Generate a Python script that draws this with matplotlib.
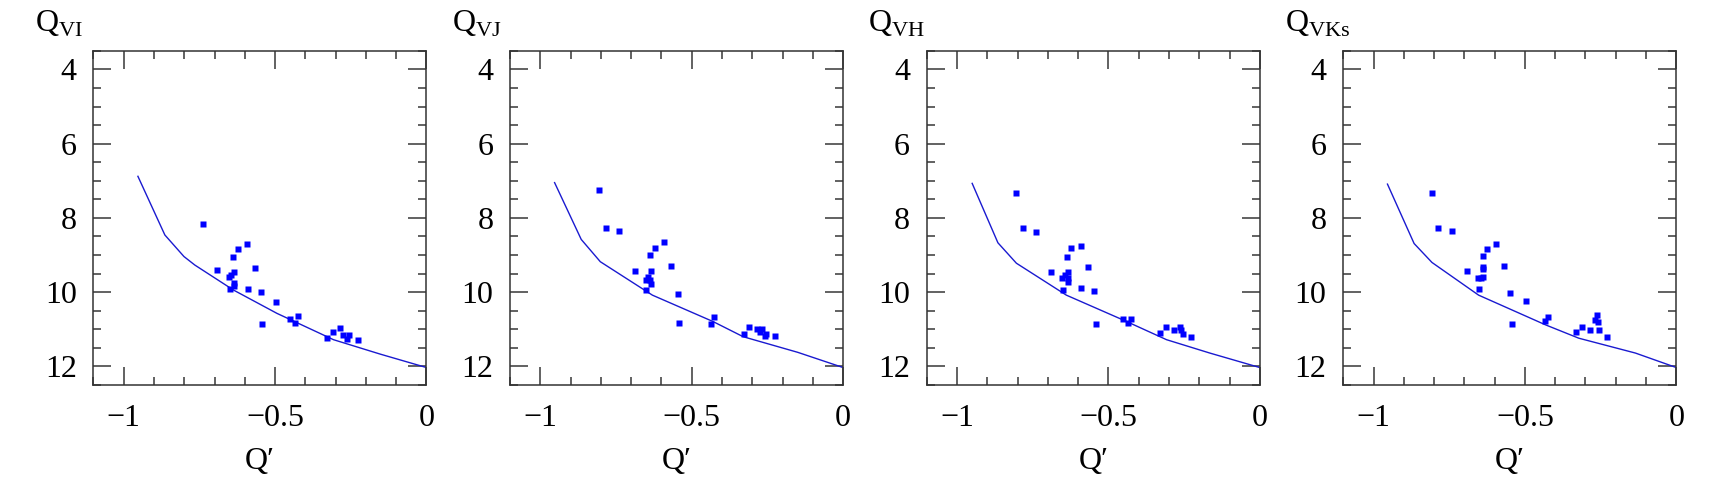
import matplotlib
matplotlib.use("Agg")
import matplotlib.pyplot as plt
from matplotlib.ticker import MultipleLocator

plt.rcParams['font.family'] = ['Liberation Serif', 'DejaVu Serif']
plt.rcParams['mathtext.fontset'] = 'custom'
plt.rcParams['mathtext.rm'] = 'Liberation Serif'
plt.rcParams['axes.unicode_minus'] = True

labels = ["VI", "VJ", "VH", "VKs"]

# data points (Q', Q) for each panel
qp_vi = [-0.738, -0.592, -0.623, -0.638, -0.691, -0.566, -0.634, -0.646, -0.653, -0.634, -0.635, -0.650, -0.589,
         -0.546, -0.497, -0.542, -0.450, -0.425, -0.434, -0.328, -0.310, -0.285, -0.276, -0.257, -0.262, -0.226]
q_vi = [8.17, 8.70, 8.83, 9.04, 9.40, 9.34, 9.47, 9.53, 9.59, 9.74, 9.83, 9.91, 9.92,
        9.99, 10.26, 10.86, 10.73, 10.65, 10.84, 11.23, 11.08, 10.96, 11.16, 11.16, 11.26, 11.28]

qp_vj = [-0.806, -0.784, -0.739, -0.592, -0.622, -0.638, -0.689, -0.634, -0.567, -0.644, -0.652, -0.638, -0.634,
         -0.651, -0.547, -0.543, -0.425, -0.435, -0.311, -0.328, -0.286, -0.268, -0.275, -0.256, -0.259, -0.226]
q_vj = [7.25, 8.26, 8.34, 8.64, 8.81, 8.99, 9.42, 9.42, 9.30, 9.58, 9.67, 9.67, 9.79,
        9.93, 10.04, 10.84, 10.67, 10.85, 10.93, 11.12, 10.99, 10.99, 11.06, 11.12, 11.18, 11.17]

qp_vh = [-0.806, -0.783, -0.738, -0.591, -0.622, -0.638, -0.688, -0.567, -0.634, -0.644, -0.653, -0.634, -0.634,
         -0.650, -0.589, -0.547, -0.542, -0.452, -0.425, -0.434, -0.328, -0.311, -0.284, -0.264, -0.260, -0.255, -0.226]
q_vh = [7.32, 8.27, 8.37, 8.75, 8.81, 9.04, 9.45, 9.32, 9.45, 9.55, 9.62, 9.61, 9.73,
        9.93, 9.88, 9.98, 10.86, 10.73, 10.73, 10.83, 11.11, 10.94, 11.02, 10.93, 11.02, 11.12, 11.22]

qp_vk = [-0.808, -0.786, -0.741, -0.594, -0.624, -0.639, -0.691, -0.569, -0.637, -0.637, -0.654, -0.637, -0.645,
         -0.652, -0.549, -0.498, -0.544, -0.425, -0.435, -0.331, -0.312, -0.286, -0.262, -0.267, -0.259, -0.256, -0.228]
q_vk = [7.33, 8.26, 8.35, 8.70, 8.84, 9.03, 9.42, 9.30, 9.31, 9.38, 9.62, 9.60, 9.63,
        9.91, 10.01, 10.24, 10.86, 10.67, 10.79, 11.07, 10.94, 11.02, 10.62, 10.76, 10.81, 11.02, 11.22]

# model curves
cx_vi = [-0.953, -0.864, -0.801, -0.765, -0.638, -0.494, -0.307, -0.152, 0.0]
cy_vi = [6.88, 8.46, 9.04, 9.27, 9.94, 10.57, 11.28, 11.67, 12.03]
cx_vj = [-0.953, -0.865, -0.802, -0.63, -0.43, -0.33, -0.15, 0.0]
cy_vj = [7.05, 8.58, 9.18, 10.08, 10.79, 11.2, 11.62, 12.03]
cx_vh = [-0.95, -0.865, -0.804, -0.639, -0.44, -0.308, -0.165, 0.0]
cy_vh = [7.07, 8.67, 9.22, 10.08, 10.79, 11.28, 11.64, 12.03]
cx_vk = [-0.954, -0.866, -0.807, -0.653, -0.432, -0.322, -0.135, 0.0]
cy_vk = [7.09, 8.69, 9.2, 10.08, 10.88, 11.24, 11.64, 12.03]

pts = [(qp_vi, q_vi), (qp_vj, q_vj), (qp_vh, q_vh), (qp_vk, q_vk)]
curves = [(cx_vi, cy_vi), (cx_vj, cy_vj), (cx_vh, cy_vh), (cx_vk, cy_vk)]

fig = plt.figure(figsize=(17.14, 4.9), dpi=100)
lefts = [0.0545, 0.2976, 0.5407, 0.7837]
gray = "#555555"

for i in range(4):
    ax = fig.add_axes([lefts[i], 0.2143, 0.1943, 0.682])
    ax.plot(curves[i][0], curves[i][1], color="#1a1ad0", lw=1.0)
    ax.plot(pts[i][0], pts[i][1], 's', color="#0000ff", ms=4.6, mec="none")
    ax.set_xlim(-1.1, 0)
    ax.set_ylim(12.5, 3.5)
    ax.xaxis.set_major_locator(MultipleLocator(0.5))
    ax.xaxis.set_minor_locator(MultipleLocator(0.1))
    ax.yaxis.set_major_locator(MultipleLocator(2))
    ax.yaxis.set_minor_locator(MultipleLocator(0.5))
    ax.set_xticks([-1, -0.5, 0])
    ax.set_xticklabels(["\u22121", "\u22120.5", "0"])
    ax.tick_params(which="both", direction="in", top=True, right=True, color=gray, width=1.3)
    ax.tick_params(which="major", length=13, labelsize=23, pad=12)
    ax.tick_params(which="minor", length=6)
    ax.tick_params(axis="x", which="major", pad=14)
    for s in ax.spines.values():
        s.set_color("#333333")
        s.set_linewidth(1.1)
    ax.set_xlabel("Q\u2032", fontsize=23, labelpad=10)
    ax.text(-0.175, 1.035, r"$\mathrm{Q}_{\mathrm{%s}}$" % labels[i], transform=ax.transAxes,
            fontsize=23, ha="left", va="bottom")

fig.savefig("out.png", dpi=100)
